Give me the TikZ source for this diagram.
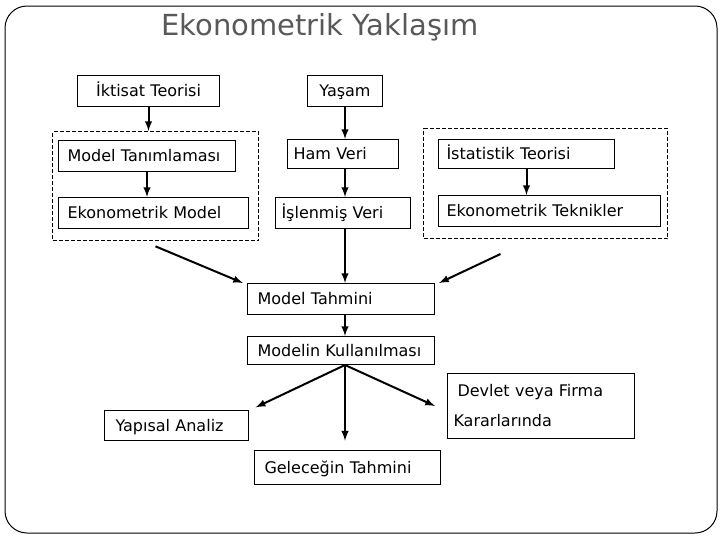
\documentclass[tikz,border=0pt]{standalone}
\usepackage{fontspec}
\setmainfont{DejaVu Sans}
\usepackage{xcolor}
\usepackage{tikz}

\begin{document}
\begin{tikzpicture}[x=0.75pt,y=-0.75pt,
ikisatir/.style={draw,line width=0.75pt,anchor=north west,align=left,inner ysep=0pt,font=\fontsize{12}{14.5}\selectfont},
kutu/.style={ikisatir,text height=10pt,text depth=1.5pt},
grup/.style={draw,dash pattern=on 3pt off 1.5pt,line width=0.75pt,anchor=north west,inner sep=0pt},
ok/.style={line width=1.5pt,-latex},
]
\useasboundingbox (0,0) rectangle (720,540);
\draw [line width=0.75pt,rounded corners=16.5pt] (5,6) rectangle (717,533);
\node[anchor=base,black!65,font=\fontsize{21.75}{26}\selectfont] (baslik) at (320,35) {Ekonometrik Yaklaşım};

\node[kutu,align=center,inner xsep=3.75pt,text width=99pt,minimum height=23.25pt] (iktisat) at (77,75) {İktisat Teorisi};
\node[kutu,align=center,inner xsep=3.75pt,text width=48.75pt,minimum height=23.25pt] (yasam) at (307,75) {Yaşam};

\node[grup,minimum width=154.5pt,minimum height=81.75pt] (solgrup) at (52,131) {};
\node[grup,minimum width=183pt,minimum height=82.5pt] (saggrup) at (423,128) {};

\node[kutu,inner xsep=6.75pt,text width=119.25pt,minimum height=23.25pt] (tanim) at (58,140) {Model Tanımlaması};
\node[kutu,inner xsep=6.75pt,text width=129pt,minimum height=23.25pt] (ekmodel) at (58,197) {Ekonometrik Model};
\node[kutu,inner xsep=4.5pt,text width=74.25pt,minimum height=21.75pt] (hamveri) at (287,139) {Ham Veri};
\node[kutu,inner xsep=4.5pt,text width=92.25pt,minimum height=23.25pt] (islenmis) at (275,197) {İşlenmiş Veri};
\node[kutu,inner xsep=6pt,text width=120pt,minimum height=21.75pt] (istatistik) at (438,139) {İstatistik Teorisi};
\node[kutu,inner xsep=6pt,text width=154.5pt,minimum height=23.25pt] (ekteknik) at (438,195) {Ekonometrik Teknikler};

\node[kutu,inner xsep=7.5pt,text width=125.25pt,minimum height=23.25pt] (tahmin) at (247,283) {Model Tahmini};
\node[kutu,inner xsep=7.5pt,text width=125.25pt,minimum height=21pt] (kullanim) at (247,336) {Modelin Kullanılması};

\node[ikisatir,inner xsep=4.5pt,text width=131.25pt,minimum height=48.75pt] (devlet) at (447,373) {\hspace{3pt}Devlet veya Firma\\[8pt]Kararlarında};
\node[kutu,inner xsep=8.25pt,text width=91.5pt,minimum height=22.5pt] (yapisal) at (104,410) {Yapısal Analiz};
\node[kutu,inner xsep=7.5pt,text width=124.5pt,minimum height=25.5pt] (gelecek) at (254,450) {Geleceğin Tahmini};

\draw [ok] (iktisat.south) -- (iktisat.south |- solgrup.north);
\draw [ok] (tanim.south) -- (tanim.south |- ekmodel.north);
\draw [ok] (yasam.south) -- (yasam.south |- hamveri.north);
\draw [ok] (yasam.south |- hamveri.south) -- (yasam.south |- islenmis.north);
\draw [ok] (istatistik.south) -- (istatistik.south |- ekteknik.north);

\draw [ok] ([yshift=-4pt]solgrup.south) -- ([xshift=-3pt]tahmin.north west);
\draw [ok] (yasam.south |- islenmis.south) -- (yasam.south |- tahmin.north);
\draw [ok] ([xshift=-33.75pt,yshift=-11.25pt]saggrup.south) -- ([xshift=3pt]tahmin.north east);
\draw [ok] (yasam.south |- tahmin.south) -- (yasam.south |- kullanim.north);

\coordinate (cikis) at (yasam.south |- kullanim.south);
\draw [ok] (cikis) -- ([xshift=5pt,yshift=2pt]yapisal.north east);
\draw [ok,shorten >=7pt] (cikis) -- (cikis |- gelecek.north);
\draw [ok] (cikis) -- ([xshift=-9pt]devlet.west);

\end{tikzpicture}
\end{document}
